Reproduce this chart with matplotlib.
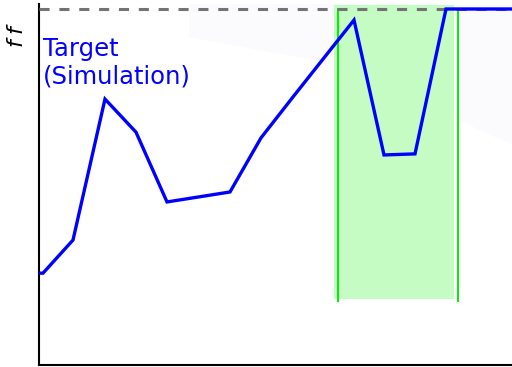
import matplotlib
matplotlib.use("Agg")
import matplotlib.pyplot as plt

# data (x in time-like units, y normalized to target = 1)
x_vals = [0, 4, 34, 66, 97, 128, 191, 222, 254, 315, 345, 376, 407, 473]
y_vals = [0.258, 0.258, 0.351, 0.747, 0.654, 0.458, 0.486, 0.638, 0.753,
          0.969, 0.590, 0.593, 1.0, 1.0]
target = 1.0
span_x = [295, 415]
span_y = [0.185, 1.011]
vlines_x = [299, 419]
vline_y = [0.18, 1.0]
label_text = "Target\n(Simulation)"

fig = plt.figure(figsize=(5.12, 3.67), dpi=100)
ax = fig.add_axes([39/512, 2/367, 1 - 39/512, (365 - 4)/367])
ax.set_xlim(0, 473)
ax.set_ylim(0, 361/356)

# faint background shading in upper right
ax.fill([150, 330, 440, 473, 473, 150], [0.92, 0.83, 0.66, 0.62, 1.02, 1.02],
        color='#fbfbfd', zorder=0, lw=0)

ax.fill_between(span_x, span_y[0], span_y[1], color='#c4fcc4', zorder=1, lw=0)
for xv in vlines_x:
    ax.plot([xv, xv], vline_y, color='#11e611', lw=1.5, zorder=2)

ax.axhline(target, color='#737373', lw=2.2, linestyle=(0, (3.3, 3.2)), zorder=3)
ax.plot(x_vals, y_vals, color='blue', lw=2.4, zorder=4, solid_joinstyle='miter')

ax.text(4, (365 - 37)/356, label_text, color='blue', fontsize=17.5, va='top', ha='left')

for s in ['top', 'right']:
    ax.spines[s].set_visible(False)
ax.spines['left'].set_linewidth(1.5)
ax.spines['bottom'].set_linewidth(1.5)
ax.set_xticks([])
ax.set_yticks([])

fig.text(17/512, 1 - 35/367, r'$f\;f$', rotation=90, fontsize=16, ha='center', va='center')

fig.savefig('out.png', dpi=100)
